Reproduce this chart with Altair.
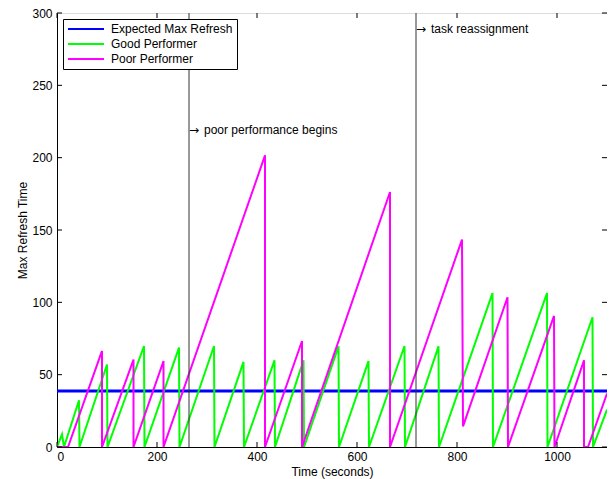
import altair as alt
import pandas as pd

# ---- data ----
series_names = ["Expected Max Refresh", "Good Performer", "Poor Performer"]
series_colors = ["#0000ff", "#00ff00", "#ff00ff"]

expected_t = [0, 1100]
expected_v = [38.7, 38.7]

good_t = [0, 10, 14, 44, 45, 100, 101, 174, 175, 244, 245, 314, 315, 373, 374,
          435, 436, 493, 494, 563, 564, 623, 624, 695, 696, 763, 764, 871, 872,
          980, 981, 1071, 1072, 1100]
good_v = [0, 8.8, 0, 32.3, 0, 57, 0, 69.8, 0, 68.7, 0, 69.8, 0, 58.8, 0,
          59.9, 0, 59.9, 0, 69.6, 0, 59.4, 0, 69.8, 0, 69.6, 0, 106.4, 0,
          106.4, 0, 89.7, 0, 25.9]

poor_t = [0, 22, 90, 90, 153, 153, 213, 213, 416, 416, 490, 490, 666, 666,
          810, 812, 901, 902, 994, 995, 1054, 1054, 1062, 1100]
poor_v = [0, 0, 66.4, 0, 60.4, 0, 59.4, 0, 201.6, 0, 73.3, 0, 176.3, 0,
          143.4, 14.3, 103.5, 0, 90.6, 0, 59.9, 0, 0, 36.9]

event_t = [264, 718]
event_labels = ["poor performance begins", "task reassignment"]
event_arrow = ["\u2192", "\u2192"]
event_label_v = [219.4, 289.2]

x_ticks = [0, 200, 400, 600, 800, 1000]
y_ticks = [0, 50, 100, 150, 200, 250, 300]

# ---- tables ----
rows = []
for name, ts, vs in [(series_names[0], expected_t, expected_v),
                     (series_names[1], good_t, good_v),
                     (series_names[2], poor_t, poor_v)]:
    for i, (t, v) in enumerate(zip(ts, vs)):
        rows.append({"t": t, "v": v, "series": name, "i": i})
df = pd.DataFrame(rows)
events = pd.DataFrame({"t": event_t, "label": event_labels,
                       "arrow": event_arrow, "v": event_label_v})
xt = pd.DataFrame({"t": x_ticks})
yt = pd.DataFrame({"v": y_ticks})

W, H = 550, 434
TICK = 5
FONT = "Liberation Sans"

xscale = alt.Scale(domain=[0, 1100], nice=False, zero=False)
yscale = alt.Scale(domain=[0, 300], nice=False, zero=False)

x_axis = alt.Axis(values=x_ticks, grid=False, ticks=False, format="d",
                  labelPadding=4, titlePadding=4,
                  domainColor="black", labelColor="black",
                  titleColor="black", labelFontSize=12,
                  titleFontSize=12, titleFontWeight="normal",
                  labelFont=FONT, titleFont=FONT)
y_axis = alt.Axis(values=y_ticks, grid=False, ticks=False, format="d",
                  labelPadding=5, titlePadding=2,
                  domainColor="black", labelColor="black",
                  titleColor="black", labelFontSize=12,
                  titleFontSize=12, titleFontWeight="normal",
                  labelFont=FONT, titleFont=FONT)

x_enc = alt.X("t:Q", scale=xscale, title="Time (seconds)", axis=x_axis)
y_enc = alt.Y("v:Q", scale=yscale, title="Max Refresh Time", axis=y_axis)

color_enc = alt.Color(
    "series:N",
    scale=alt.Scale(domain=series_names, range=series_colors),
    legend=alt.Legend(title=None, orient="none", legendX=6, legendY=6,
                      symbolType="stroke", symbolSize=1296,
                      symbolStrokeWidth=2, clipHeight=12,
                      strokeColor="black", fillColor="white",
                      padding=4, rowPadding=3, labelOffset=6,
                      labelFontSize=12, labelFont=FONT, labelColor="black"))

base = alt.Chart(df)

def series_layer(name, width):
    return base.transform_filter(alt.datum.series == name).mark_line(
        strokeWidth=width, strokeJoin="miter", clip=True
    ).encode(x=x_enc, y=y_enc, color=color_enc, order="i:Q")

blue = series_layer(series_names[0], 3)
green = series_layer(series_names[1], 2)
magenta = series_layer(series_names[2], 2)

rules = alt.Chart(events).mark_rule(color="#333333", strokeWidth=1).encode(
    x=x_enc)
arrows = alt.Chart(events).mark_text(
    align="left", baseline="middle", fontSize=12, font="DejaVu Sans",
    color="black", dx=0, dy=0
).encode(x=x_enc, y=y_enc, text="arrow:N")
texts = alt.Chart(events).mark_text(
    align="left", baseline="middle", fontSize=12, font=FONT, color="black",
    dx=15
).encode(x=x_enc, y=y_enc, text="label:N")

# inward tick marks on all four sides (MATLAB style)
xt_bottom = alt.Chart(xt).mark_rule(color="black", strokeWidth=1).encode(
    x=x_enc, y=alt.value(H), y2=alt.value(H - TICK))
xt_top = alt.Chart(xt).mark_rule(color="black", strokeWidth=1).encode(
    x=x_enc, y=alt.value(0), y2=alt.value(TICK))
yt_left = alt.Chart(yt).mark_rule(color="black", strokeWidth=1).encode(
    y=y_enc, x=alt.value(0), x2=alt.value(TICK))
yt_right = alt.Chart(yt).mark_rule(color="black", strokeWidth=1).encode(
    y=y_enc, x=alt.value(W), x2=alt.value(W - TICK))

chart = alt.layer(blue, green, magenta, rules, arrows, texts,
                  xt_bottom, xt_top, yt_left, yt_right).properties(
    width=W, height=H,
    padding={"left": 49, "top": 5, "right": 0, "bottom": 32},
    autosize="none",
).configure_view(stroke="black", strokeWidth=1).configure(background="white")

chart.save("out.html", embed_options={"renderer": "svg", "actions": False})
